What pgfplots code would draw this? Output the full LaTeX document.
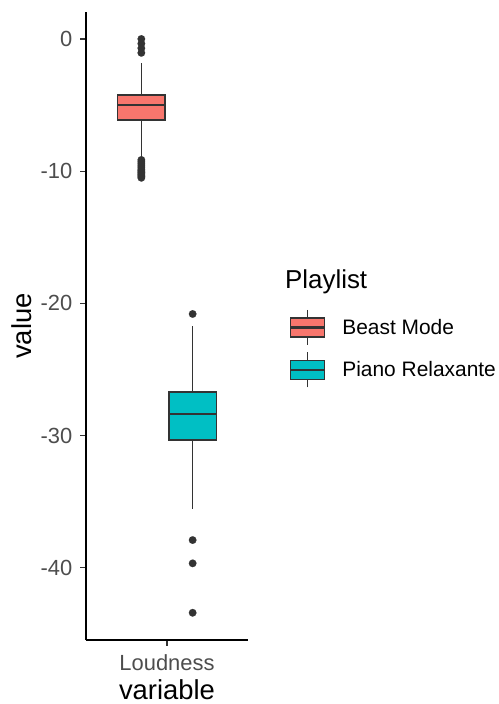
\documentclass[border=0pt]{standalone}
\usepackage{pgfplots}
\pgfplotsset{compat=1.18}
\usepackage{fontspec}
\setmainfont{Liberation Sans}
\definecolor{beast}{HTML}{F8766D}
\definecolor{piano}{HTML}{00BFC4}
\definecolor{edge}{HTML}{333333}
\definecolor{ticklab}{HTML}{4D4D4D}
\begin{document}
\begin{tikzpicture}
\path[use as bounding box] (0bp,0bp) rectangle (499bp,-704bp);
\begin{axis}[
  at={(86bp,-12bp)}, anchor=north west,
  scale only axis, width=162bp, height=628bp,
  xmin=0.4, xmax=1.6, ymin=-45.46, ymax=2.04,
  axis x line*=bottom, axis y line*=left,
  xtick={1}, xticklabels={Loudness},
  ytick={0,-10,-20,-30,-40},
  tick align=outside, major tick length=5.5bp,
  tick style={edge, line width=1.3bp},
  axis line style={black, line width=1.4bp},
  tick label style={font=\fontsize{22}{24}\selectfont, text=ticklab},
  yticklabel style={inner sep=0pt, xshift=-8bp},
  xticklabel style={inner sep=0pt, yshift=-9bp},
  /pgf/number format/assume math mode=true,
  xlabel={variable}, ylabel={value},
  label style={font=\fontsize{27.5}{30}\selectfont},
  xlabel style={at={(axis description cs:0.5,-0.0796)}, anchor=center},
  ylabel style={at={(axis description cs:-0.395,0.5)}, anchor=center},
  clip=false,
  legend style={at={(axis description cs:1.253,0.527)}, anchor=north west,
    draw=none, fill=none, inner sep=0pt, row sep=6bp, column sep=15bp,
    font=\fontsize{21}{24}\selectfont},
  legend cell align=left,
]
% Beast Mode
\addplot[edge, line width=1.4bp, forget plot] coordinates {(0.81,-4.24) (0.81,-1.79)};
\addplot[edge, line width=1.4bp, forget plot] coordinates {(0.81,-6.13) (0.81,-8.9)};
\addplot[fill=beast, draw=edge, line width=1.4bp,
  legend image code/.code={
    \draw[edge, line width=1.4bp] (17bp,9.5bp) -- (17bp,17.5bp) (17bp,-9.5bp) -- (17bp,-17.5bp);
    \draw[fill=beast, draw=edge, line width=1.4bp] (0bp,-9.5bp) rectangle (34bp,9.5bp);
    \draw[edge, line width=2.2bp] (0bp,0bp) -- (34bp,0bp);
  }] coordinates {(0.635,-4.24) (0.985,-4.24) (0.985,-6.13) (0.635,-6.13)} -- cycle;
\addlegendentry{Beast Mode}
\addplot[edge, line width=2.8bp, forget plot] coordinates {(0.635,-4.99) (0.985,-4.99)};
\addplot[only marks, mark=*, mark size=3.8bp, mark options={fill=edge, draw=edge, line width=0.1bp}, forget plot]
  coordinates {(0.81,0) (0.81,-0.35) (0.81,-0.7) (0.81,-1.05) (0.81,-9.15) (0.81,-9.3) (0.81,-9.45) (0.81,-9.6) (0.81,-9.75) (0.81,-9.9) (0.81,-10.0) (0.81,-10.1) (0.81,-10.2) (0.81,-10.3) (0.81,-10.4) (0.81,-10.5)};
% Piano Relaxante
\addplot[edge, line width=1.4bp, forget plot] coordinates {(1.19,-26.7) (1.19,-21.7)};
\addplot[edge, line width=1.4bp, forget plot] coordinates {(1.19,-30.33) (1.19,-35.55)};
\addplot[fill=piano, draw=edge, line width=1.4bp,
  legend image code/.code={
    \draw[edge, line width=1.4bp] (17bp,9.5bp) -- (17bp,17.5bp) (17bp,-9.5bp) -- (17bp,-17.5bp);
    \draw[fill=piano, draw=edge, line width=1.4bp] (0bp,-9.5bp) rectangle (34bp,9.5bp);
    \draw[edge, line width=2.2bp] (0bp,0bp) -- (34bp,0bp);
  }] coordinates {(1.015,-26.7) (1.365,-26.7) (1.365,-30.33) (1.015,-30.33)} -- cycle;
\addlegendentry{Piano Relaxante}
\addplot[edge, line width=2.8bp, forget plot] coordinates {(1.015,-28.37) (1.365,-28.37)};
\addplot[only marks, mark=*, mark size=3.8bp, mark options={fill=edge, draw=edge, line width=0.1bp}, forget plot]
  coordinates {(1.19,-20.8) (1.19,-37.9) (1.19,-39.66) (1.19,-43.4)};
\node[anchor=west, font=\fontsize{26}{28}\selectfont, inner sep=0pt] at (axis description cs:1.228,0.570) {Playlist};
\end{axis}
\end{tikzpicture}
\end{document}
